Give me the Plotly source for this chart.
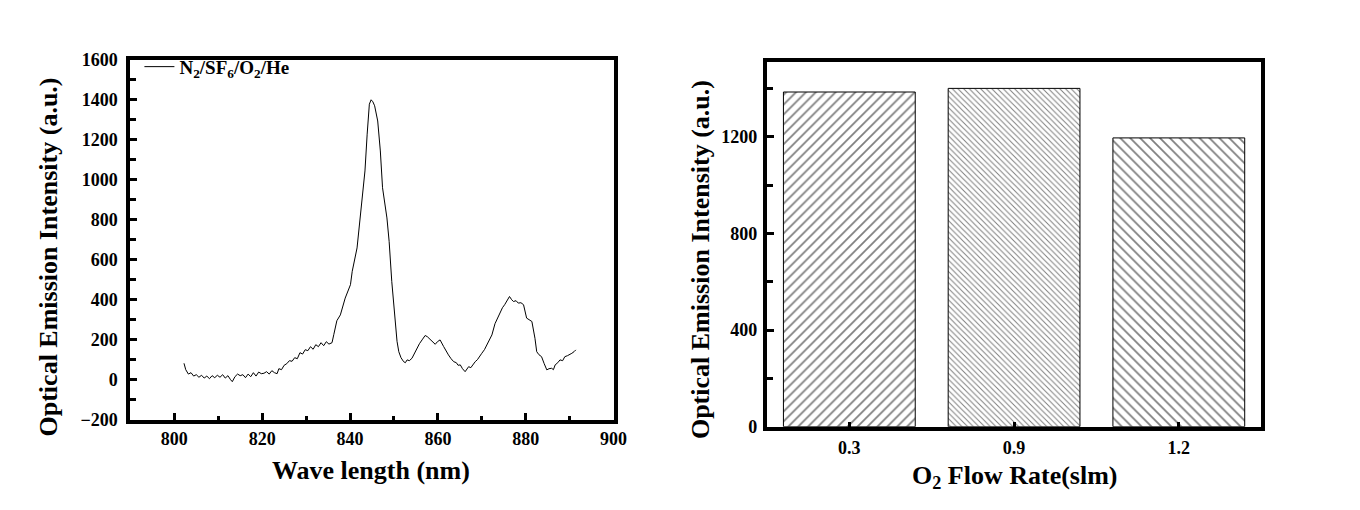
import plotly.graph_objects as go

# ---------------- data ----------------
wavelength = [802.2, 802.6, 803.2, 803.8, 804.4, 805.0, 805.6, 806.2, 806.8, 807.4,
              808.0, 808.6, 809.2, 809.8, 810.4, 811.0, 811.6, 812.2, 812.8, 813.2,
              813.8, 814.4, 815.0, 815.6, 816.2, 816.8, 817.4, 818.0, 818.6, 819.2,
              819.8, 820.4, 821.0, 821.6, 822.2, 822.8, 823.4, 823.8, 824.4, 825.0,
              825.6, 826.2, 826.8, 827.4, 828.0, 828.6, 829.2, 829.8, 830.4, 831.0,
              831.6, 832.2, 832.8, 833.4, 834.0, 834.6, 835.2, 835.9, 836.3, 837.0,
              837.8, 838.9, 840.1, 840.5, 841.6, 842.0, 842.6, 843.1, 843.4, 843.9,
              844.4, 844.8, 845.2, 845.6, 846.3, 846.9, 847.4, 848.4, 848.9, 849.5,
              850.3, 850.7, 851.1, 851.6, 852.2, 852.6, 853.0, 853.5, 854.1, 854.6,
              855.2, 855.8, 856.4, 857.1, 857.6, 858.3, 858.8, 859.4, 859.9, 860.5,
              861.3, 861.8, 862.4, 863.0, 863.6, 864.2, 864.6, 865.1, 865.6, 866.2,
              866.6, 867.0, 867.5, 868.0, 868.5, 869.0, 869.5, 870.0, 870.6, 871.1,
              871.7, 872.3, 873.0, 873.4, 874.2, 874.7, 875.2, 875.8, 876.3, 876.8,
              877.2, 877.8, 878.3, 878.9, 879.5, 880.2, 880.8, 881.4, 882.1, 882.5,
              883.0, 883.6, 884.2, 884.8, 885.3, 885.9, 886.3, 886.7, 887.3, 887.8,
              888.4, 888.9, 889.5, 890.0, 890.5, 891.0, 891.4]
intensity = [82, 50, 28, 35, 18, 25, 12, 22, 8, 18,
             5, 20, 10, 22, 12, 25, 8, 20, 0, -10,
             15, 28, 20, 25, 10, 28, 15, 35, 18, 38,
             30, 32, 40, 28, 45, 35, 30, 55, 50, 72,
             80, 95, 92, 110, 105, 135, 128, 150, 145, 165,
             152, 175, 165, 185, 170, 190, 178, 185, 225, 295,
             324, 408, 475, 542, 659, 743, 860, 993, 1044, 1228,
             1378, 1400, 1390, 1370, 1294, 1144, 960, 809, 692, 492,
             291, 192, 140, 110, 90, 85, 99, 95, 107, 130,
             157, 180, 199, 221, 215, 199, 190, 177, 190, 199,
             166, 145, 124, 105, 90, 85, 72, 74, 55, 40,
             55, 65, 60, 78, 90, 100, 118, 132, 150, 174,
             200, 224, 280, 300, 341, 360, 375, 395, 416, 400,
             391, 395, 383, 385, 375, 308, 300, 291, 207, 140,
             125, 115, 80, 49, 55, 57, 50, 74, 85, 99,
             95, 115, 120, 125, 132, 140, 149]

flow_labels = ["0.3", "0.9", "1.2"]
flow_intensity = [1385, 1400, 1195]
bar_patterns = ["/", "\\", "\\"]
bar_pattern_sizes = [7, 4, 7]

W, H = 1360, 510
FONT = "Liberation Serif"
# the page adds a body margin and the photo is rescaled; map target picture pixels to figure pixels
SX, SY, OX, OY = 0.988, 0.9585, 8, 17


def px(x):
    return (x / SX - OX) / W


def py(y):
    return 1 - (y / SY - OY) / H


fig = go.Figure()

fig.add_trace(go.Scatter(
    x=wavelength, y=intensity, mode="lines",
    line=dict(color="black", width=1),
    name="<b>N<sub>2</sub>/SF<sub>6</sub>/O<sub>2</sub>/He</b>",
    xaxis="x", yaxis="y", showlegend=True,
))

fig.add_trace(go.Bar(
    x=[0, 1, 2], y=flow_intensity, width=0.8,
    marker=dict(
        color="white",
        line=dict(color="black", width=1),
        pattern=dict(shape=bar_patterns, size=bar_pattern_sizes,
                     solidity=0.25, fgcolor="black", bgcolor="white"),
    ),
    xaxis="x2", yaxis="y2", showlegend=False,
))

axis_common = dict(
    showline=True, linecolor="black", linewidth=4, mirror=True,
    showgrid=False, zeroline=False,
    ticks="inside", tickcolor="black", tickwidth=3,
    tickfont=dict(family=FONT, size=18, color="black", weight="bold"),
)

fig.update_layout(
    width=W, height=H,
    margin=dict(l=0, r=0, t=0, b=0),
    paper_bgcolor="white", plot_bgcolor="white",
    font=dict(family=FONT, color="black"),
    xaxis=dict(domain=[px(130), px(612)], range=[790, 900], dtick=20, tick0=800,
               ticklen=7, ticklabelstandoff=0,
               minor=dict(ticks="inside", dtick=10, ticklen=4, tickwidth=3, tickcolor="black"),
               anchor="y", **axis_common),
    yaxis=dict(domain=[py(417), py(58)], range=[-200, 1600], dtick=200, tick0=0,
               ticklen=7, ticklabelstandoff=5,
               minor=dict(ticks="inside", dtick=100, ticklen=6, tickwidth=3, tickcolor="black"),
               anchor="x", **axis_common),
    xaxis2=dict(domain=[px(765), px(1258)], range=[-0.5, 2.5],
                tickvals=[0, 1, 2], ticktext=flow_labels, ticklen=5, ticklabelstandoff=2,
                anchor="y2", **axis_common),
    yaxis2=dict(domain=[py(424), py(60)], range=[0, 1510], dtick=400, tick0=0,
                ticklen=7, ticklabelstandoff=2,
                minor=dict(ticks="inside", dtick=200, ticklen=6, tickwidth=3, tickcolor="black"),
                anchor="x2", **axis_common),
    legend=dict(x=px(139), y=py(46), xanchor="left", yanchor="top",
                bgcolor="rgba(0,0,0,0)", borderwidth=0,
                font=dict(family=FONT, size=19, color="black")),
    showlegend=True,
)

title_font = dict(family=FONT, size=26, color="black")
fig.add_annotation(text="<b>Optical Emission Intensity (a.u.)</b>", x=px(48), y=py(255),
                   xanchor="center", yanchor="middle",
                   xref="paper", yref="paper", textangle=-90, showarrow=False, font=title_font)
fig.add_annotation(text="<b>Wave length (nm)</b>", x=px(370), y=py(468),
                   xanchor="center", yanchor="middle",
                   xref="paper", yref="paper", showarrow=False, font=title_font)
fig.add_annotation(text="<b>Optical Emission Intensity (a.u.)</b>", x=px(698), y=py(257),
                   xanchor="center", yanchor="middle",
                   xref="paper", yref="paper", textangle=-90, showarrow=False, font=title_font)
fig.add_annotation(text="<b>O<sub>2</sub> Flow Rate(slm)</b>", x=px(1012), y=py(474),
                   xanchor="center", yanchor="middle",
                   xref="paper", yref="paper", showarrow=False, font=title_font)

fig.write_html("out.html")
